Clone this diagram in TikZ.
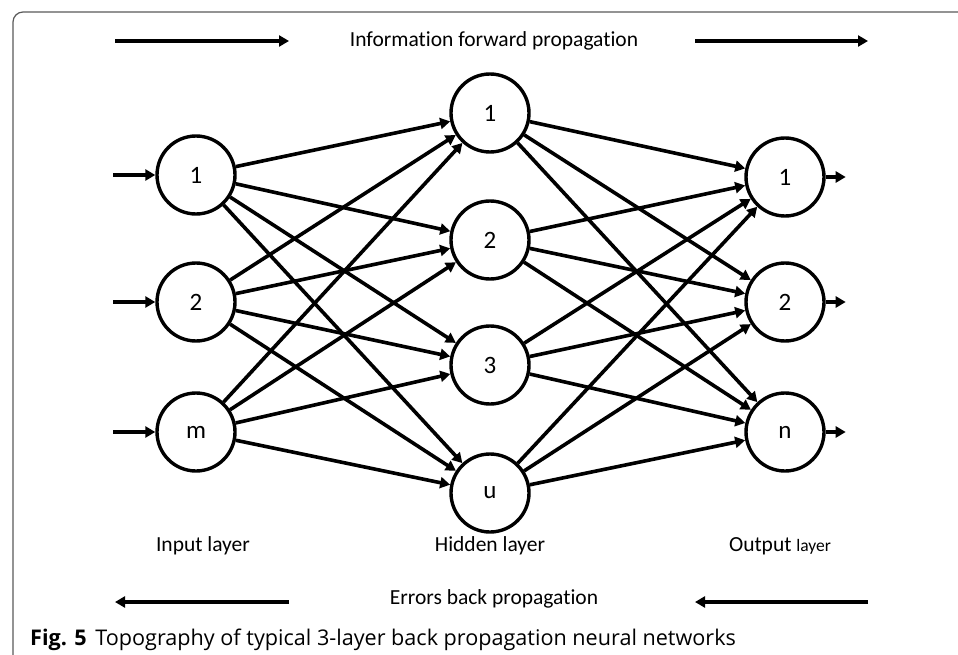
\documentclass[tikz,border=0pt]{standalone}
\usepackage{fontspec}
\setmainfont{Carlito}[Ligatures=NoCommon]
\newfontfamily\capfont{Open Sans}
\usetikzlibrary{arrows.meta, positioning}

\tikzset{
  neuron/.style={draw, circle, line width=3.4pt, minimum size=78pt, inner sep=0pt, font=\fontsize{25}{25}\selectfont},
  link/.style={line width=3.6pt, -{Triangle[length=10pt, width=11pt]}},
  flow/.style={line width=3.4pt, -{Triangle[length=10pt, width=11pt]}},
  lbl/.style={font=\fontsize{21.5}{21.5}\selectfont, inner sep=0pt}
}

\begin{document}
\begin{tikzpicture}[x=1pt, y=-1pt]
  \useasboundingbox (0,0) rectangle (958,655);
  % frame
  \draw[gray!70!black, line width=1.2pt] (13,655) -- (13,22) arc (180:270:10) -- (958,12);

  % input layer
  \node[neuron] (i1) at (196,175) {1};
  \node[neuron] (i2) at (196,302) {2};
  \node[neuron] (i3) at (196,432) {m};
  % hidden layer
  \node[neuron] (h1) at (490,113) {1};
  \node[neuron] (h2) at (490,240) {2};
  \node[neuron] (h3) at (490,365) {3};
  \node[neuron] (h4) at (490,493) {u};
  % output layer
  \node[neuron] (o1) at (785,177) {1};
  \node[neuron] (o2) at (785,302) {2};
  \node[neuron] (o3) at (785,432) {n};

  % weights
  \foreach \i in {1,2,3}
    \foreach \h in {1,2,3,4}
      \draw[link] (i\i) -- (h\h);
  \foreach \h in {1,2,3,4}
    \foreach \o in {1,2,3}
      \draw[link] (h\h) -- (o\o);

  % inputs and outputs
  \foreach \k in {1,2,3} {
    \coordinate (in\k) at ([xshift=-42pt]i\k.west);
    \draw[link] (in\k) -- (i\k);
    \coordinate (out\k) at ([xshift=20pt]o\k.east);
    \draw[link] (o\k) -- (out\k);
  }

  % propagation
  \node[lbl] (fwd) at (494,41) {Information forward propagation};
  \coordinate (f1) at (115,41);
  \coordinate (f2) at (289,41);
  \coordinate (f3) at (695,41);
  \coordinate (f4) at (868,41);
  \draw[flow] (f1) -- (f2);
  \draw[flow] (f3) -- (f4);

  \node[lbl] (back) at (494,599) {Errors back propagation};
  \coordinate (b1) at (289,602);
  \coordinate (b2) at (115,602);
  \coordinate (b3) at (868,602);
  \coordinate (b4) at (695,602);
  \draw[flow] (b1) -- (b2);
  \draw[flow] (b3) -- (b4);

  % layer names
  \node[lbl] (inlayer) at (203,546) {Input layer};
  \node[lbl] (hidlayer) at (490,546) {Hidden layer};
  \node[lbl] (outlayer) at (780,546) {Output {\fontsize{17.5}{17.5}\selectfont layer}};

  % caption
  \node[anchor=west, inner sep=0pt, font=\capfont\fontsize{21.6}{21.6}\selectfont] (cap) at (30,640)
    {\textbf{Fig. 5}\hspace{0.4em}Topography of typical 3-layer back propagation neural networks};
\end{tikzpicture}
\end{document}
